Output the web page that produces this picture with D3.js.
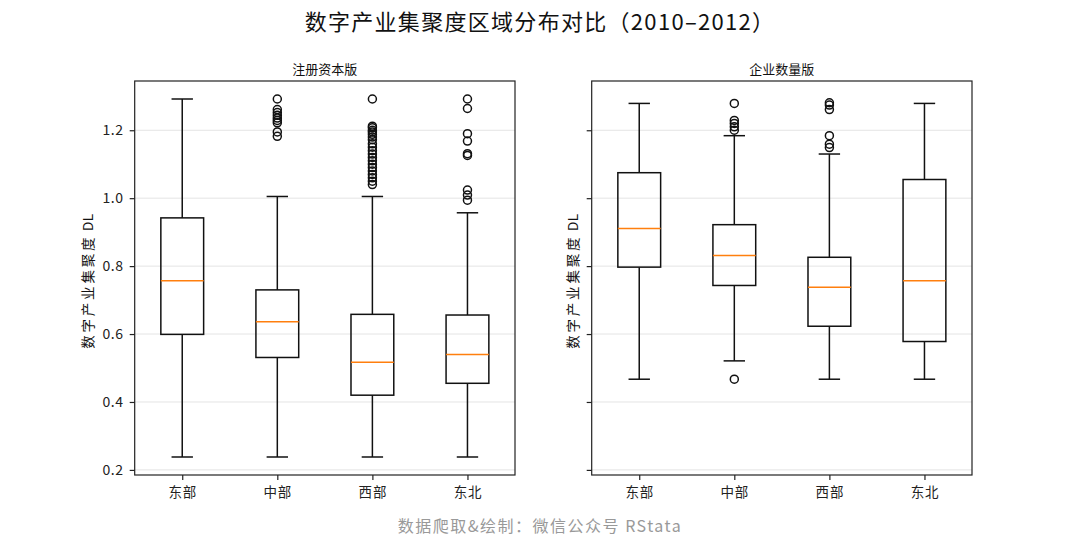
<!DOCTYPE html>
<html><head><meta charset="utf-8">
<script src="https://cdn.jsdelivr.net/npm/d3@7/dist/d3.min.js"></script>
<style>body{margin:0;background:#fff}svg{display:block}</style>
</head><body><svg id="c" width="1080" height="540"></svg>
<script>
// ---------- data ----------
const regions = ["东部", "中部", "西部", "东北"];
const panelTitles = ["注册资本版", "企业数量版"];
const yTicks = [0.2, 0.4, 0.6, 0.8, 1.0, 1.2];
const mainTitle = "数字产业集聚度区域分布对比（2010–2012）";
const yLabelMain = "数字产业集聚度";
const yLabelUnit = " DL";
const footnote = "数据爬取&绘制：微信公众号 RStata";

// [whisker low, Q1, median, Q3, whisker high]
const capitalStats = [
  [0.238, 0.599, 0.757, 0.942, 1.292],
  [0.238, 0.531, 0.636, 0.730, 1.005],
  [0.238, 0.420, 0.517, 0.658, 1.005],
  [0.238, 0.455, 0.540, 0.656, 0.957]
];
const capitalFliers = [
  [],
  [1.292, 1.261, 1.252, 1.244, 1.236, 1.229, 1.222, 1.195, 1.182],
  [1.292, 1.212, 1.207, 1.200, 1.195, 1.188, 1.180, 1.172, 1.160, 1.150, 1.140,
   1.130, 1.120, 1.110, 1.100, 1.090, 1.080, 1.070, 1.060, 1.050, 1.040],
  [1.292, 1.264, 1.190, 1.168, 1.131, 1.126, 1.024, 1.009, 0.994]
];
const countStats = [
  [0.467, 0.797, 0.911, 1.075, 1.279],
  [0.521, 0.743, 0.831, 0.922, 1.184],
  [0.467, 0.623, 0.738, 0.826, 1.130],
  [0.467, 0.578, 0.757, 1.055, 1.279]
];
const countFliers = [
  [],
  [1.279, 1.229, 1.220, 1.210, 1.200, 0.467],
  [1.281, 1.274, 1.261, 1.184, 1.159, 1.149],
  []
];

// ---------- layout ----------
const svg = d3.select("#c");
const font = "'Noto Sans CJK SC','Noto Sans',sans-serif";
const plotTop = 81, plotBottom = 475;
const panels = [
  {x0: 134.7, x1: 515, stats: capitalStats, fliers: capitalFliers, title: panelTitles[0], labels: true, labelOffset: 48},
  {x0: 591.7, x1: 972, stats: countStats, fliers: countFliers, title: panelTitles[1], labels: false, labelOffset: 20}
];
const y = d3.scaleLinear().domain([0.185, 1.345]).range([plotBottom, plotTop]);

svg.append("rect").attr("width", 1080).attr("height", 540).attr("fill", "#fff");

svg.append("text").attr("x", 540).attr("y", 20).attr("text-anchor", "middle")
  .attr("dominant-baseline", "central").attr("font-family", font).attr("font-size", 22)
  .attr("letter-spacing", 1.3).attr("fill", "#111").text(mainTitle);

svg.append("text").attr("x", 540).attr("y", 525).attr("text-anchor", "middle")
  .attr("dominant-baseline", "central").attr("font-family", font).attr("font-size", 16)
  .attr("letter-spacing", 1.5).attr("fill", "#999").text(footnote);

panels.forEach(p => {
  const x = d3.scaleLinear().domain([0.5, 4.5]).range([p.x0, p.x1]);
  const bw = x(1.45) - x(1);
  const cw = bw / 2;
  const g = svg.append("g");

  // grid
  g.selectAll(".grid").data(yTicks).join("line")
    .attr("x1", p.x0).attr("x2", p.x1).attr("y1", d => y(d)).attr("y2", d => y(d))
    .attr("stroke", "#e4e4e4").attr("stroke-width", 1);

  // axes
  const ya = d3.axisLeft(y).tickValues(yTicks).tickSize(5).tickPadding(6)
    .tickFormat(p.labels ? d3.format(".1f") : () => "");
  const yg = g.append("g").attr("transform", `translate(${p.x0},0)`).call(ya);
  const xa = d3.axisBottom(x).tickValues([1, 2, 3, 4]).tickSize(5).tickPadding(5)
    .tickFormat(i => regions[i - 1]);
  const xg = g.append("g").attr("transform", `translate(0,${plotBottom})`).call(xa);
  [yg, xg].forEach(a => {
    a.select(".domain").remove();
    a.selectAll(".tick line").attr("stroke", "#222").attr("stroke-width", 1.2);
    a.selectAll(".tick text").attr("font-family", font).attr("fill", "#222");
  });
  yg.selectAll(".tick text").attr("font-size", 14).attr("letter-spacing", 0.6);
  xg.selectAll(".tick text").attr("font-size", 13.5).attr("letter-spacing", 0.8).attr("dy", "0.9em");

  // boxes
  p.stats.forEach((s, i) => {
    const cx = x(i + 1);
    const [lo, q1, med, q3, hi] = s;
    const bg = g.append("g").attr("stroke", "#111").attr("stroke-width", 1.5).attr("fill", "none");
    bg.append("line").attr("x1", cx).attr("x2", cx).attr("y1", y(q1)).attr("y2", y(lo));
    bg.append("line").attr("x1", cx).attr("x2", cx).attr("y1", y(q3)).attr("y2", y(hi));
    bg.append("line").attr("x1", cx - cw / 2).attr("x2", cx + cw / 2).attr("y1", y(lo)).attr("y2", y(lo));
    bg.append("line").attr("x1", cx - cw / 2).attr("x2", cx + cw / 2).attr("y1", y(hi)).attr("y2", y(hi));
    bg.append("rect").attr("x", cx - bw / 2).attr("width", bw)
      .attr("y", y(q3)).attr("height", y(q1) - y(q3));
    g.append("line").attr("x1", cx - bw / 2).attr("x2", cx + bw / 2)
      .attr("y1", y(med)).attr("y2", y(med)).attr("stroke", "#ff7f0e").attr("stroke-width", 1.5);
    g.selectAll(null).data(p.fliers[i]).join("circle")
      .attr("cx", cx).attr("cy", d => y(d)).attr("r", 4)
      .attr("fill", "none").attr("stroke", "#111").attr("stroke-width", 1.5);
  });

  // frame
  g.append("rect").attr("x", p.x0).attr("y", plotTop).attr("width", p.x1 - p.x0).attr("height", plotBottom - plotTop)
    .attr("fill", "none").attr("stroke", "#222").attr("stroke-width", 1.2);

  // subplot title
  g.append("text").attr("x", (p.x0 + p.x1) / 2).attr("y", 68).attr("text-anchor", "middle")
    .attr("dominant-baseline", "central").attr("font-family", font).attr("font-size", 13)
    .attr("fill", "#111").text(p.title);

  // y label
  const yl = g.append("text").attr("transform", `translate(${p.x0 - p.labelOffset},${(plotTop + plotBottom) / 2 + 3}) rotate(-90)`)
    .attr("text-anchor", "middle").attr("dominant-baseline", "central")
    .attr("font-family", font).attr("font-size", 13.5).attr("fill", "#111");
  yl.append("tspan").attr("letter-spacing", 2.8).text(yLabelMain);
  yl.append("tspan").attr("letter-spacing", 0.6).text(yLabelUnit);
});
</script></body></html>
